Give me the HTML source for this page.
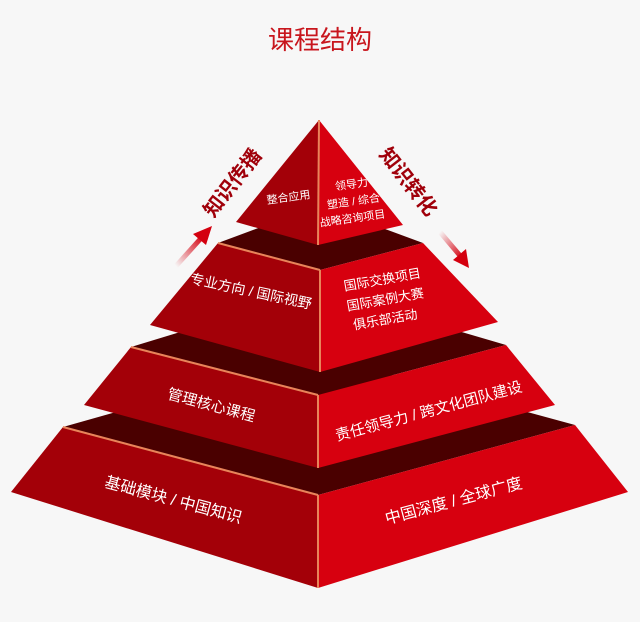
<!DOCTYPE html>
<html><head><meta charset="utf-8"><style>
html,body{margin:0;padding:0;background:#f7f7f7;}
svg{display:block;font-family:"Liberation Sans","Noto Sans CJK SC",sans-serif;}
</style></head><body>
<svg width="640" height="622" viewBox="0 0 640 622">
<defs>
<linearGradient id="gl" x1="0" y1="1" x2="1" y2="0"><stop offset="0" stop-color="#f7f7f7"/><stop offset="1" stop-color="#d4000f"/></linearGradient>
<linearGradient id="gr" x1="0" y1="0" x2="1" y2="1"><stop offset="0" stop-color="#f7f7f7"/><stop offset="1" stop-color="#d4000f"/></linearGradient>
</defs>
<rect width="640" height="622" fill="#f7f7f7"/>
<text x="320" y="49" text-anchor="middle" font-size="26" fill="#c8161d">课程结构</text>

<!-- tier 4 -->
<g>
<polygon points="63,427 318,355 575,425 318,495" fill="#4a0000"/>
<polygon points="63,427 318,495 318,588 11,492" fill="#a30008"/>
<polygon points="318,495 575,425 628,492 318,588" fill="#d7000f"/>
<line x1="63" y1="427" x2="318" y2="495" stroke="#e8845a" stroke-width="2"/>
<line x1="318" y1="495" x2="318" y2="588" stroke="#e8845a" stroke-width="2"/>
</g>
<!-- tier 3 -->
<g>
<polygon points="131,347 318,290 506,345 318,395" fill="#4a0000"/>
<polygon points="131,347 318,395 318,468 84,405" fill="#a30008"/>
<polygon points="318,395 506,345 555,405 318,468" fill="#d7000f"/>
<line x1="131" y1="347" x2="318" y2="395" stroke="#e8845a" stroke-width="2"/>
<line x1="318" y1="395" x2="318" y2="468" stroke="#e8845a" stroke-width="2"/>
</g>
<!-- tier 2 -->
<g>
<polygon points="218,243 320,205 423,243 320,270" fill="#4a0000"/>
<polygon points="218,243 320,270 320,372 150,325" fill="#a30008"/>
<polygon points="320,270 423,243 498,322 320,372" fill="#d7000f"/>
<line x1="218" y1="243" x2="320" y2="270" stroke="#e8845a" stroke-width="2"/>
<line x1="320" y1="270" x2="320" y2="372" stroke="#e8845a" stroke-width="2"/>
</g>
<!-- tier 1 -->
<g>
<polygon points="319,120 318,245 236,222" fill="#a30008"/>
<polygon points="319,120 403,225 318,245" fill="#d7000f"/>
<line x1="319" y1="120" x2="318" y2="245" stroke="#e8845a" stroke-width="2"/>
</g>

<!-- arrows -->
<g>
<line x1="176" y1="266" x2="203" y2="236" stroke="url(#gl)" stroke-width="5"/>
<polygon points="212,226 193,234 206,245" fill="#d4000f"/>
</g>
<g>
<line x1="440" y1="232" x2="462" y2="258" stroke="url(#gr)" stroke-width="5"/>
<polygon points="469,268 453,260 466,249" fill="#d4000f"/>
</g>
<text transform="translate(238,187) rotate(-52)" text-anchor="middle" font-size="20" font-weight="bold" fill="#a0000a">知识传播</text>
<text transform="translate(403,186) rotate(52)" text-anchor="middle" font-size="20" font-weight="bold" fill="#a0000a">知识转化</text>

<g fill="#fff" text-anchor="middle">
<text transform="translate(289,201) rotate(-8)" font-size="11">整合应用</text>
<text transform="translate(352,188) rotate(-8)" font-size="11">领导力</text>
<text transform="translate(354,205) rotate(-8)" font-size="11">塑造 / 综合</text>
<text transform="translate(353,222) rotate(-8)" font-size="11">战略咨询项目</text>
<text transform="translate(250,296) rotate(12)" font-size="14">专业方向 / 国际视野</text>
<text transform="translate(383,284) rotate(-10)" font-size="13">国际交换项目</text>
<text transform="translate(386,304) rotate(-10)" font-size="13">国际案例大赛</text>
<text transform="translate(386,324) rotate(-10)" font-size="13">俱乐部活动</text>
<text transform="translate(210,410) rotate(15)" font-size="15">管理核心课程</text>
<text transform="translate(430,416) rotate(-15)" font-size="15">责任领导力 / 跨文化团队建设</text>
<text transform="translate(172,505) rotate(15)" font-size="16">基础模块 / 中国知识</text>
<text transform="translate(455,506) rotate(-15)" font-size="16">中国深度 / 全球广度</text>
</g>
</svg>
</body></html>
